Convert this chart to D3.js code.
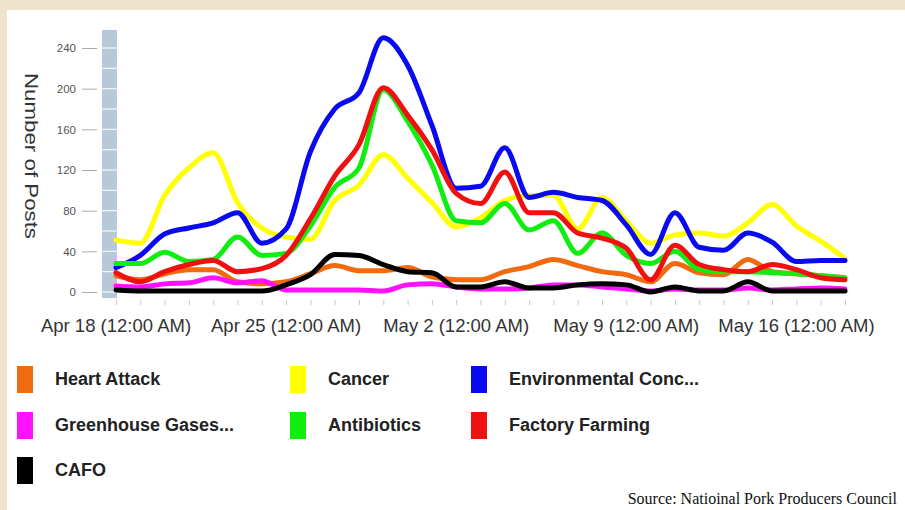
<!DOCTYPE html>
<html><head><meta charset="utf-8">
<script src="https://cdn.jsdelivr.net/npm/d3@7"></script>
<style>
html,body{margin:0;padding:0;background:#efe4cb;}
svg{display:block;}
</style></head>
<body>
<svg id="chart" width="905" height="510"></svg>
<script>
// ---- DATA ----
const startDate = "2010-04-18";
const dayCount = 31;
const tickLabels = ["Apr 18 (12:00 AM)", "Apr 25 (12:00 AM)", "May 2 (12:00 AM)", "May 9 (12:00 AM)", "May 16 (12:00 AM)"];
const tickDays = [0, 7, 14, 21, 28];
const yTicks = [0, 40, 80, 120, 160, 200, 240];

const seriesNames = ["Heart Attack", "Cancer", "Environmental Conc...", "Greenhouse Gases...", "Antibiotics", "Factory Farming", "CAFO"];
const seriesColors = ["#f26a10", "#ffff00", "#0a0af0", "#ff10ff", "#10ee10", "#f01010", "#000000"];

const heartAttack = [16,12,18,22,22,10,8,10,18,26,21,21,24,15,12,12,20,25,32,26,20,17,10,28,19,17,32,20,18,16,14];
const cancer      = [51,48,95,122,137,88,63,54,52,90,105,135,112,88,64,73,90,95,95,62,93,70,48,56,58,55,68,86,65,50,33];
const environmental = [24,36,57,63,68,78,48,62,138,180,196,250,223,164,102,104,142,93,98,93,90,66,37,78,44,41,58,49,30,31,31];
const greenhouse  = [6,5,8,9,14,9,11,2,2,2,2,1,7,8,5,3,3,4,7,7,5,3,1,3,2,2,4,2,3,4,3];
const antibiotics = [28,28,39,30,32,54,36,38,65,103,122,199,168,125,70,68,87,61,70,38,58,36,28,40,22,20,20,19,18,16,14];
const factoryFarming = [19,10,20,27,31,20,23,36,72,114,145,201,174,140,97,87,118,78,78,58,53,43,12,46,27,22,20,27,22,14,12];
const cafo        = [2,1,1,1,1,1,1,7,17,37,36,27,20,19,5,5,10,4,4,7,8,7,0,5,1,1,10,1,1,1,1];

const seriesValues = [heartAttack, cancer, environmental, greenhouse, antibiotics, factoryFarming, cafo];

// ---- CHART ----
const svg = d3.select("#chart");
const W = 905, H = 510;
const sans = "Liberation Sans, Arial, sans-serif";

// white panel
svg.append("rect").attr("x", 7).attr("y", 10).attr("width", W - 7).attr("height", H - 10).attr("fill", "#ffffff");

const t0 = new Date(startDate + "T00:00:00Z");
const dates = d3.range(dayCount).map(i => d3.utcDay.offset(t0, i));
const x = d3.scaleUtc().domain([dates[0], dates[dates.length - 1]]).range([116, 845]);
const y = d3.scaleLinear().domain([0, 240]).range([292, 48]);

// y bar
svg.append("rect").attr("x", 102).attr("y", 30).attr("width", 15).attr("height", 268).attr("fill", "#b7c8d9");
svg.append("g").selectAll("line").data(d3.range(0, 260, 20)).join("line")
  .attr("x1", 102).attr("x2", 117)
  .attr("y1", d => y(d)).attr("y2", d => y(d))
  .attr("stroke", "#ffffff").attr("stroke-width", 1.2).attr("opacity", 0.85);

// y axis
const yAxis = svg.append("g").attr("transform", "translate(97,0)")
  .call(d3.axisLeft(y).tickValues(yTicks).tickSize(15).tickPadding(6));
yAxis.select(".domain").remove();
yAxis.selectAll(".tick line").attr("stroke", "#aaaaaa").attr("stroke-width", 1);
yAxis.selectAll(".tick text").attr("fill", "#555").attr("font-size", "11.5px").attr("font-family", sans);

// y title
svg.append("text").attr("transform", "translate(25,156) rotate(90)")
  .attr("text-anchor", "middle").attr("fill", "#333")
  .attr("font-family", sans).attr("font-size", "19px")
  .attr("textLength", 166).attr("lengthAdjust", "spacingAndGlyphs")
  .text("Number of Posts");

// x minor ticks
const xAxis = svg.append("g").attr("transform", "translate(0,300)")
  .call(d3.axisBottom(x).tickValues(dates).tickSize(5).tickFormat(""));
xAxis.select(".domain").remove();
xAxis.selectAll(".tick line").attr("stroke", "#c8c8c8").attr("stroke-width", 1);

// x labels
svg.append("g").selectAll("text").data(tickDays).join("text")
  .attr("x", (d) => x(dates[d]))
  .attr("y", 332)
  .attr("text-anchor", "middle").attr("fill", "#333")
  .attr("font-family", sans).attr("font-size", "18.5px")
  .text((d, i) => tickLabels[i]);

// lines
const line = d3.line().x((d, i) => x(dates[i])).y(d => y(d)).curve(d3.curveMonotoneX);
svg.append("g").selectAll("path").data(seriesValues).join("path")
  .attr("d", d => line(d))
  .attr("fill", "none")
  .attr("stroke", (d, i) => seriesColors[i])
  .attr("stroke-width", 5)
  .attr("stroke-linejoin", "round").attr("stroke-linecap", "round");

// legend
const legCols = [17, 290, 471];
const legRows = [366, 412, 457];
const legend = svg.append("g");
seriesNames.forEach((name, i) => {
  const cx = legCols[i % 3], cy = legRows[Math.floor(i / 3)];
  legend.append("rect").attr("x", cx).attr("y", cy).attr("width", 16).attr("height", 27).attr("fill", seriesColors[i]);
  legend.append("text").attr("x", cx + 38).attr("y", cy + 19)
    .attr("fill", "#222").attr("font-weight", "bold")
    .attr("font-family", sans).attr("font-size", "18px")
    .text(name);
});

// source
svg.append("text").attr("x", 897).attr("y", 504).attr("text-anchor", "end")
  .attr("fill", "#111").attr("font-family", "Liberation Serif, Times New Roman, serif").attr("font-size", "16px")
  .text("Source: Natioinal Pork Producers Council");
</script>
</body></html>
